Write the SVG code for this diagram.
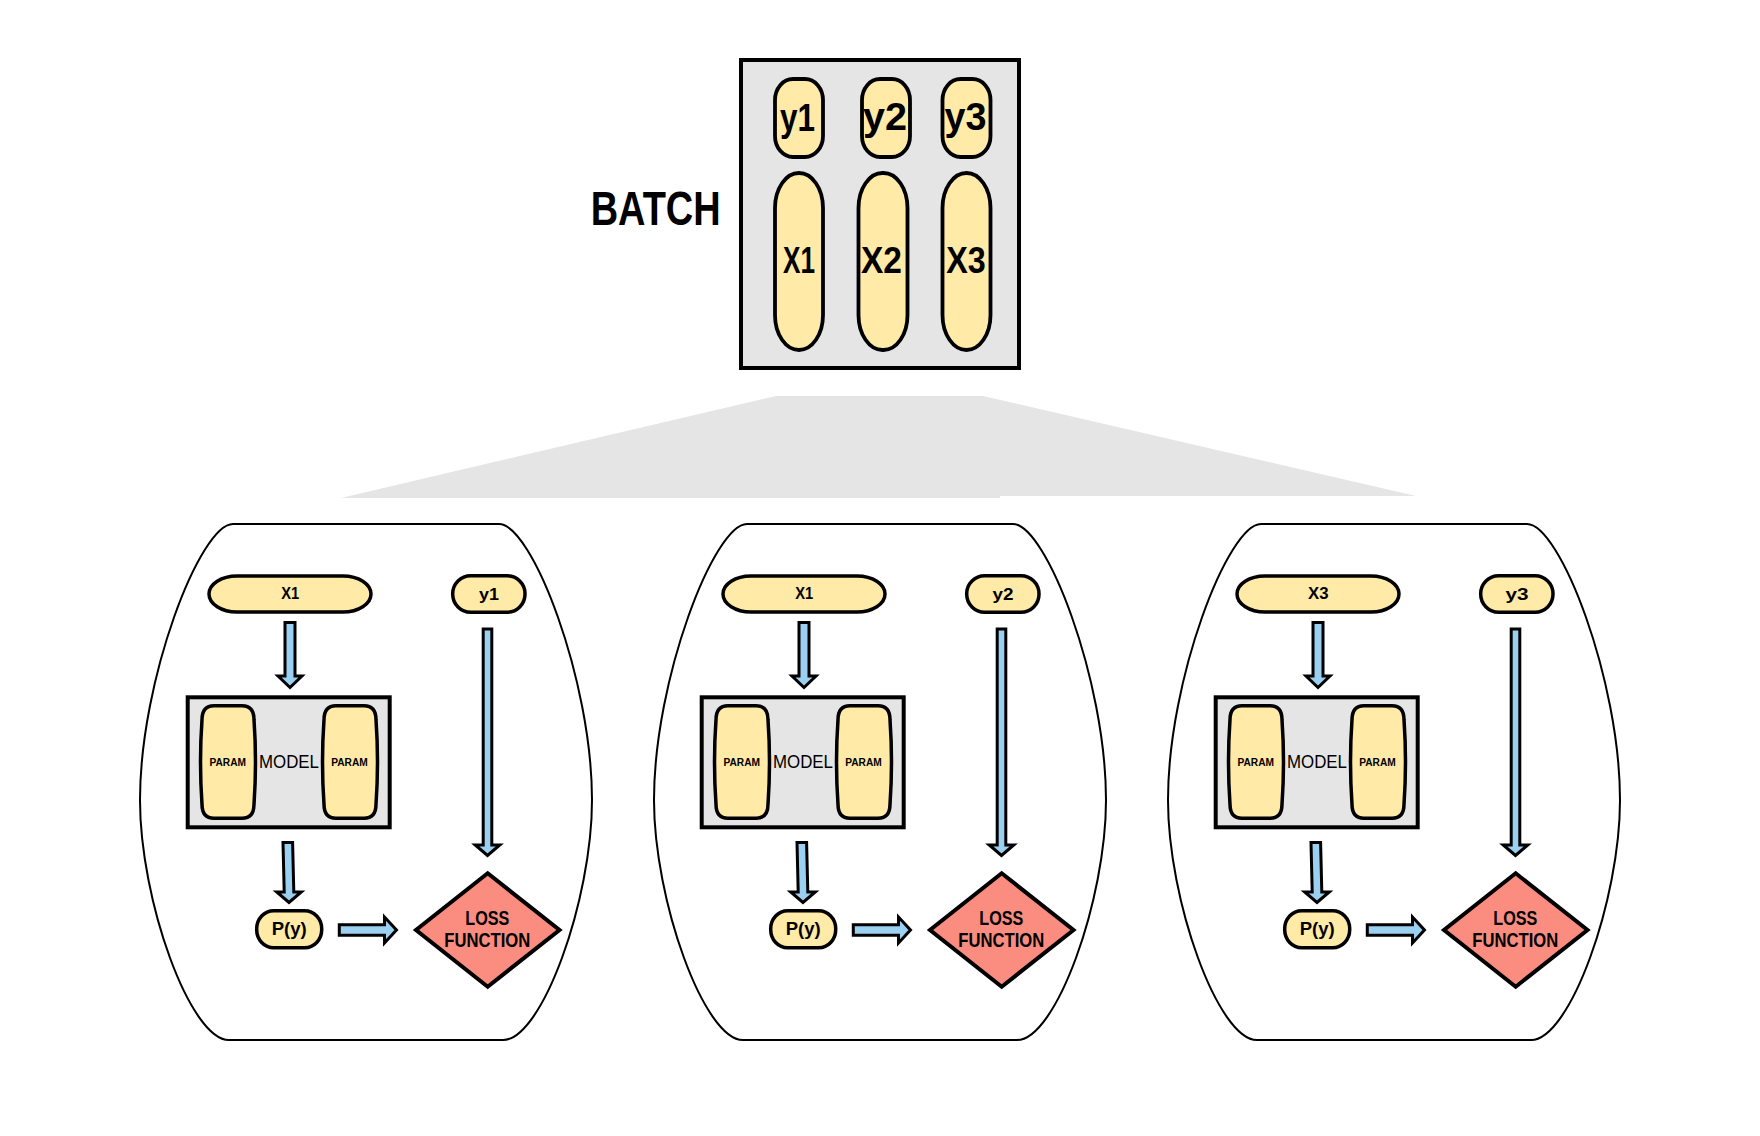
<svg xmlns="http://www.w3.org/2000/svg" width="1760" height="1136" viewBox="0 0 1760 1136">
<style>
text{font-family:"Liberation Sans",Arial,sans-serif;fill:#000;text-anchor:middle;font-weight:bold}
.pill{fill:#ffeaa7;stroke:#000;stroke-width:3.5}
.bpill{fill:#ffeaa7;stroke:#000;stroke-width:3.8}
.box{fill:#e5e5e5;stroke:#000;stroke-width:4}
.clu{fill:none;stroke:#000;stroke-width:2}
.arr{fill:#9bd0f0;stroke:#000;stroke-width:3;stroke-linejoin:miter}
.loss{fill:#fa8c80;stroke:#000;stroke-width:4;stroke-linejoin:miter}
.fan{fill:#e5e5e5}
.bl{font-size:38px}
.bx{font-size:36px}
.cl{font-size:16px}
.pt{font-size:11.5px}
.mt{font-size:18.5px;font-weight:normal}
.lt{font-size:19.5px}
</style>
<rect width="1760" height="1136" fill="#fff"/>

<g id="batch-label"><text x="655.7" y="225" style="font-size:49px" textLength="130" lengthAdjust="spacingAndGlyphs">BATCH</text></g>

<g id="batch">
  <rect class="box" x="741" y="60" width="278" height="308"/>
  <g id="batch-y1"><rect class="bpill" x="775" y="79" width="48" height="78" rx="18" ry="21"/><text class="bl" x="797.5" y="131" textLength="35" lengthAdjust="spacingAndGlyphs">y1</text></g>
  <g id="batch-y2"><rect class="bpill" x="862" y="79" width="48" height="78" rx="18" ry="21"/><text class="bl" x="885" y="130" textLength="44" lengthAdjust="spacingAndGlyphs">y2</text></g>
  <g id="batch-y3"><rect class="bpill" x="942.5" y="79" width="48" height="78" rx="18" ry="21"/><text class="bl" x="965.5" y="130" textLength="42" lengthAdjust="spacingAndGlyphs">y3</text></g>
  <g id="batch-x1"><rect class="bpill" x="775" y="173" width="48" height="177" rx="24" ry="35"/><text class="bx" x="799" y="272.5" textLength="32" lengthAdjust="spacingAndGlyphs">X1</text></g>
  <g id="batch-x2"><rect class="bpill" x="858.5" y="173" width="49" height="177" rx="24" ry="35"/><text class="bx" x="881.5" y="272.5" textLength="41" lengthAdjust="spacingAndGlyphs">X2</text></g>
  <g id="batch-x3"><rect class="bpill" x="942.5" y="173" width="48" height="177" rx="24" ry="35"/><text class="bx" x="966" y="272.5" textLength="39.5" lengthAdjust="spacingAndGlyphs">X3</text></g>
</g>

<g id="fan"><polygon class="fan" points="341,498 776,396 983,396 1416,496 1000,496 1000,498"/></g>

<!-- cluster 1 -->
<g id="cluster1">
  <path class="clu" d="M233,524 H499 C532,524 592,680 592,800 C592,900 542,1040 503,1040 H229 C190,1040 140,900 140,800 C140,680 200,524 233,524 Z"/>
  <g id="c1-x"><rect class="pill" x="209" y="576" width="162" height="36" rx="28" ry="18"/><text class="cl" x="290.3" y="599.3" textLength="18" lengthAdjust="spacingAndGlyphs">X1</text></g>
  <g id="c1-y"><rect class="pill" x="452.7" y="575.7" width="72.3" height="36.6" rx="18" ry="18"/><text class="cl" x="489" y="600" textLength="20" lengthAdjust="spacingAndGlyphs">y1</text></g>
  <g id="c1-model">
    <rect class="box" x="187.7" y="697.3" width="202" height="130"/>
    <text class="mt" x="289" y="767.5" textLength="60" lengthAdjust="spacingAndGlyphs">MODEL</text>
    <path class="pill" d="M214,705.7 H242 Q254,705.7 254,719.7 Q257,762 254,804.3 Q254,818.3 242,818.3 H214 Q202,818.3 202,804.3 Q199,762 202,719.7 Q202,705.7 214,705.7 Z"/>
    <text class="pt" x="227.7" y="765.5" textLength="36.5" lengthAdjust="spacingAndGlyphs">PARAM</text>
    <path class="pill" d="M336,705.7 H364 Q376,705.7 376,719.7 Q379,762 376,804.3 Q376,818.3 364,818.3 H336 Q324,818.3 324,804.3 Q321,762 324,719.7 Q324,705.7 336,705.7 Z"/>
    <text class="pt" x="349.5" y="765.5" textLength="36.5" lengthAdjust="spacingAndGlyphs">PARAM</text>
  </g>
  <g id="c1-py"><rect class="pill" x="256.7" y="910.7" width="65" height="37" rx="17" ry="18"/><text style="font-size:18.6px" x="289.2" y="935" textLength="35" lengthAdjust="spacingAndGlyphs">P(y)</text></g>
  <g id="c1-loss"><polygon class="loss" points="487.7,873.3 559.5,930 487.7,986.7 416,930"/><text class="lt" x="487.3" y="925" textLength="44" lengthAdjust="spacingAndGlyphs">LOSS</text><text class="lt" x="487.3" y="947.3" textLength="86" lengthAdjust="spacingAndGlyphs">FUNCTION</text></g>
</g>

<!-- cluster 2 -->
<g id="cluster2" transform="translate(514,0)">
  <path class="clu" d="M233,524 H499 C532,524 592,680 592,800 C592,900 542,1040 503,1040 H229 C190,1040 140,900 140,800 C140,680 200,524 233,524 Z"/>
  <g id="c2-x"><rect class="pill" x="209" y="576" width="162" height="36" rx="28" ry="18"/><text class="cl" x="290.3" y="599.3" textLength="18" lengthAdjust="spacingAndGlyphs">X1</text></g>
  <g id="c2-y"><rect class="pill" x="452.7" y="575.7" width="72.3" height="36.6" rx="18" ry="18"/><text class="cl" x="489" y="600" textLength="21" lengthAdjust="spacingAndGlyphs">y2</text></g>
  <g id="c2-model">
    <rect class="box" x="187.7" y="697.3" width="202" height="130"/>
    <text class="mt" x="289" y="767.5" textLength="60" lengthAdjust="spacingAndGlyphs">MODEL</text>
    <path class="pill" d="M214,705.7 H242 Q254,705.7 254,719.7 Q257,762 254,804.3 Q254,818.3 242,818.3 H214 Q202,818.3 202,804.3 Q199,762 202,719.7 Q202,705.7 214,705.7 Z"/>
    <text class="pt" x="227.7" y="765.5" textLength="36.5" lengthAdjust="spacingAndGlyphs">PARAM</text>
    <path class="pill" d="M336,705.7 H364 Q376,705.7 376,719.7 Q379,762 376,804.3 Q376,818.3 364,818.3 H336 Q324,818.3 324,804.3 Q321,762 324,719.7 Q324,705.7 336,705.7 Z"/>
    <text class="pt" x="349.5" y="765.5" textLength="36.5" lengthAdjust="spacingAndGlyphs">PARAM</text>
  </g>
  <g id="c2-py"><rect class="pill" x="256.7" y="910.7" width="65" height="37" rx="17" ry="18"/><text style="font-size:18.6px" x="289.2" y="935" textLength="35" lengthAdjust="spacingAndGlyphs">P(y)</text></g>
  <g id="c2-loss"><polygon class="loss" points="487.7,873.3 559.5,930 487.7,986.7 416,930"/><text class="lt" x="487.3" y="925" textLength="44" lengthAdjust="spacingAndGlyphs">LOSS</text><text class="lt" x="487.3" y="947.3" textLength="86" lengthAdjust="spacingAndGlyphs">FUNCTION</text></g>
</g>

<!-- cluster 3 -->
<g id="cluster3" transform="translate(1028,0)">
  <path class="clu" d="M233,524 H499 C532,524 592,680 592,800 C592,900 542,1040 503,1040 H229 C190,1040 140,900 140,800 C140,680 200,524 233,524 Z"/>
  <g id="c3-x"><rect class="pill" x="209" y="576" width="162" height="36" rx="28" ry="18"/><text class="cl" x="290.3" y="599.3" textLength="20.5" lengthAdjust="spacingAndGlyphs">X3</text></g>
  <g id="c3-y"><rect class="pill" x="452.7" y="575.7" width="72.3" height="36.6" rx="18" ry="18"/><text class="cl" x="489" y="600" textLength="23" lengthAdjust="spacingAndGlyphs">y3</text></g>
  <g id="c3-model">
    <rect class="box" x="187.7" y="697.3" width="202" height="130"/>
    <text class="mt" x="289" y="767.5" textLength="60" lengthAdjust="spacingAndGlyphs">MODEL</text>
    <path class="pill" d="M214,705.7 H242 Q254,705.7 254,719.7 Q257,762 254,804.3 Q254,818.3 242,818.3 H214 Q202,818.3 202,804.3 Q199,762 202,719.7 Q202,705.7 214,705.7 Z"/>
    <text class="pt" x="227.7" y="765.5" textLength="36.5" lengthAdjust="spacingAndGlyphs">PARAM</text>
    <path class="pill" d="M336,705.7 H364 Q376,705.7 376,719.7 Q379,762 376,804.3 Q376,818.3 364,818.3 H336 Q324,818.3 324,804.3 Q321,762 324,719.7 Q324,705.7 336,705.7 Z"/>
    <text class="pt" x="349.5" y="765.5" textLength="36.5" lengthAdjust="spacingAndGlyphs">PARAM</text>
  </g>
  <g id="c3-py"><rect class="pill" x="256.7" y="910.7" width="65" height="37" rx="17" ry="18"/><text style="font-size:18.6px" x="289.2" y="935" textLength="35" lengthAdjust="spacingAndGlyphs">P(y)</text></g>
  <g id="c3-loss"><polygon class="loss" points="487.7,873.3 559.5,930 487.7,986.7 416,930"/><text class="lt" x="487.3" y="925" textLength="44" lengthAdjust="spacingAndGlyphs">LOSS</text><text class="lt" x="487.3" y="947.3" textLength="86" lengthAdjust="spacingAndGlyphs">FUNCTION</text></g>
</g>

<g id="connectors">
  <g id="conn1">
    <polygon class="arr" points="285,622.5 295,622.5 295,676 302,676 290,687.5 278,676 285,676"/>
    <polygon class="arr" points="483.2,629 491.8,629 491.8,845 499.8,845 487.5,855.5 475.2,845 483.2,845"/>
    <polygon class="arr" points="283,842.5 292.6,842.5 293.8,892 301.3,892 289,902.5 276.7,892 284.2,892"/>
    <polygon class="arr" points="339.3,924.8 384.5,924.8 384.5,917 396.5,930 384.5,943 384.5,935.2 339.3,935.2"/>
  </g>
  <g id="conn2" transform="translate(514,0)">
    <polygon class="arr" points="285,622.5 295,622.5 295,676 302,676 290,687.5 278,676 285,676"/>
    <polygon class="arr" points="483.2,629 491.8,629 491.8,845 499.8,845 487.5,855.5 475.2,845 483.2,845"/>
    <polygon class="arr" points="283,842.5 292.6,842.5 293.8,892 301.3,892 289,902.5 276.7,892 284.2,892"/>
    <polygon class="arr" points="339.3,924.8 384.5,924.8 384.5,917 396.5,930 384.5,943 384.5,935.2 339.3,935.2"/>
  </g>
  <g id="conn3" transform="translate(1028,0)">
    <polygon class="arr" points="285,622.5 295,622.5 295,676 302,676 290,687.5 278,676 285,676"/>
    <polygon class="arr" points="483.2,629 491.8,629 491.8,845 499.8,845 487.5,855.5 475.2,845 483.2,845"/>
    <polygon class="arr" points="283,842.5 292.6,842.5 293.8,892 301.3,892 289,902.5 276.7,892 284.2,892"/>
    <polygon class="arr" points="339.3,924.8 384.5,924.8 384.5,917 396.5,930 384.5,943 384.5,935.2 339.3,935.2"/>
  </g>
</g>
</svg>
